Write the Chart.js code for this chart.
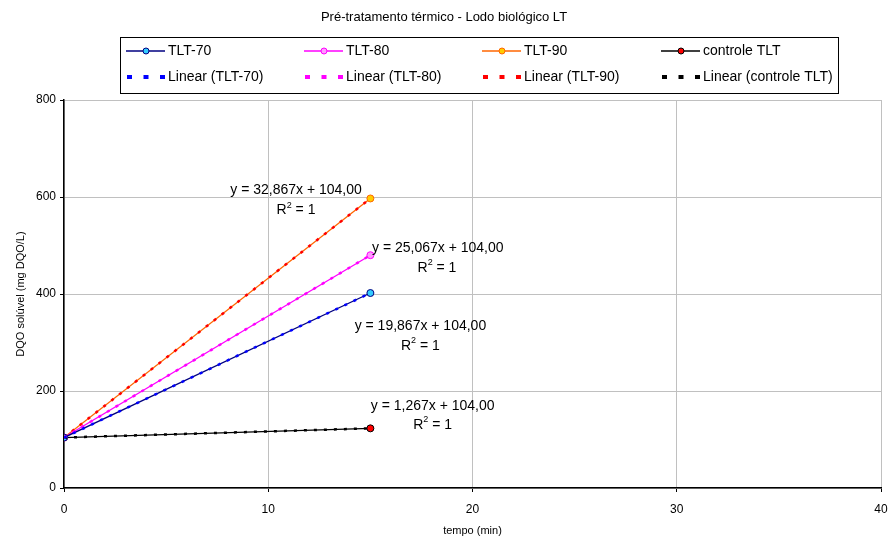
<!DOCTYPE html>
<html>
<head>
<meta charset="utf-8">
<script src="https://cdn.jsdelivr.net/npm/chart.js@4.4.0/dist/chart.umd.min.js"></script>
<style>
  html, body { margin: 0; padding: 0; background: #fff; }
  #wrap { width: 888px; height: 537px; }
</style>
</head>
<body>
<div id="wrap"><canvas id="chart" width="888" height="537"></canvas></div>
<script>
// data
const seriesNames = ["TLT-70", "TLT-80", "TLT-90", "controle TLT"];
const timeMin = [0, 15];
const dqoTLT70 = [104, 402];
const dqoTLT80 = [104, 480];
const dqoTLT90 = [104, 597];
const dqoControle = [104, 123];
const equations = ["y = 19,867x + 104,00", "y = 25,067x + 104,00", "y = 32,867x + 104,00", "y = 1,267x + 104,00"];
const xTicks = [0, 10, 20, 30, 40];
const yTicks = [0, 200, 400, 600, 800];

// label anchors (data coords): [eqX, eqY, r2X, r2Y]
const labelPos = [
  [17.45, 334, 17.45, 293],
  [18.3, 495, 18.26, 454],
  [11.36, 615, 11.36, 573],
  [18.05, 169, 18.05, 130]
];

const lineColors = ["#000080", "#ff00ff", "#ff6600", "#000000"];
const markerFill = ["#33ccff", "#ff99ff", "#ffcc00", "#ff0000"];
const trendColors = ["#0000ff", "#ff00ff", "#ff0000", "#000000"];

const FONT = "'Liberation Sans', Arial, sans-serif";
const allValues = [dqoTLT70, dqoTLT80, dqoTLT90, dqoControle];

const pts = vals => timeMin.map((t, i) => ({ x: t, y: vals[i] }));

const datasets = [];
seriesNames.forEach((name, i) => {
  datasets.push({
    label: name,
    data: pts(allValues[i]),
    borderColor: lineColors[i],
    backgroundColor: markerFill[i],
    pointBorderColor: lineColors[i],
    pointBackgroundColor: markerFill[i],
    borderWidth: 1.3,
    pointRadius: 3.5,
    pointBorderWidth: 1,
    showLine: true,
    order: 2,
    kind: "data"
  });
});
seriesNames.forEach((name, i) => {
  datasets.push({
    label: "Linear (" + name + ")",
    data: pts(allValues[i]),
    borderColor: trendColors[i],
    borderWidth: 2.5,
    borderDash: [3, 7],
    borderCapStyle: "butt",
    pointRadius: 0,
    showLine: true,
    order: 1,
    kind: "trend"
  });
});

const decorPlugin = {
  id: "decor",
  afterDraw(chart) {
    const ctx = chart.ctx;
    const xs = chart.scales.x, ys = chart.scales.y;
    ctx.save();
    // title
    ctx.fillStyle = "#000";
    ctx.font = "13px " + FONT;
    ctx.textAlign = "center";
    ctx.textBaseline = "middle";
    ctx.fillText("Pré-tratamento térmico - Lodo biológico LT", 444, 17);

    // legend box
    ctx.strokeStyle = "#000";
    ctx.lineWidth = 1;
    ctx.strokeRect(120.5, 37.5, 718, 56);
    const colX = [126, 304, 482, 661];
    const rowY = [51, 77];
    ctx.font = "14px " + FONT;
    ctx.textAlign = "left";
    chart.data.datasets.forEach((ds, k) => {
      const col = k % 4, row = Math.floor(k / 4);
      const x = colX[col], y = rowY[row];
      if (ds.kind === "data") {
        ctx.strokeStyle = ds.borderColor;
        ctx.lineWidth = 1.3;
        ctx.setLineDash([]);
        ctx.beginPath(); ctx.moveTo(x, y); ctx.lineTo(x + 39, y); ctx.stroke();
        ctx.beginPath(); ctx.arc(x + 20, y, 3, 0, Math.PI * 2);
        ctx.fillStyle = ds.pointBackgroundColor; ctx.fill();
        ctx.strokeStyle = ds.pointBorderColor; ctx.lineWidth = 1; ctx.stroke();
      } else {
        ctx.fillStyle = ds.borderColor;
        for (let d = 0; d < 3; d++) ctx.fillRect(x + 1 + d * 16.5, y - 2, 5, 4);
      }
      ctx.fillStyle = "#000";
      ctx.fillText(ds.label, x + 42, y);
    });

    // trendline equations
    ctx.textAlign = "left";
    labelPos.forEach((p, i) => {
      ctx.font = "14px " + FONT;
      const ex = xs.getPixelForValue(p[0]), ey = ys.getPixelForValue(p[1]);
      const ew = ctx.measureText(equations[i]).width;
      ctx.fillText(equations[i], ex - ew / 2, ey);
      const rx = xs.getPixelForValue(p[2]), ry = ys.getPixelForValue(p[3]);
      const wR = ctx.measureText("R").width;
      const wRest = ctx.measureText(" = 1").width;
      ctx.font = "9px " + FONT;
      const w2 = ctx.measureText("2").width;
      const total = wR + w2 + wRest;
      const sx = rx - total / 2;
      ctx.font = "14px " + FONT;
      ctx.fillText("R", sx, ry);
      ctx.fillText(" = 1", sx + wR + w2, ry);
      ctx.font = "9px " + FONT;
      ctx.fillText("2", sx + wR, ry - 5);
    });
    ctx.restore();
  }
};

new Chart(document.getElementById("chart"), {
  type: "scatter",
  data: { datasets },
  options: {
    responsive: false,
    animation: false,
    devicePixelRatio: 1,
    layout: { padding: { top: 100, left: 10, right: 7, bottom: 0 } },
    plugins: { legend: { display: false }, tooltip: { enabled: false }, title: { display: false } },
    scales: {
      x: {
        type: "linear",
        min: 0, max: 40,
        afterBuildTicks: s => { s.ticks = xTicks.map(v => ({ value: v })); },
        afterFit: s => { s.height = 49; s.paddingRight = 0; s.paddingLeft = 0; },
        grid: { color: "#c0c0c0", tickColor: "#000", tickLength: 4, drawTicks: true },
        border: { color: "#000", width: 1.5 },
        ticks: { color: "#000", font: { family: FONT, size: 12 }, padding: 10 },
        title: { display: true, text: "tempo (min)", color: "#000", font: { family: FONT, size: 11 }, padding: { top: 4, bottom: -1 } }
      },
      y: {
        type: "linear",
        min: 0, max: 800,
        afterBuildTicks: s => { s.ticks = yTicks.map(v => ({ value: v })); },
        afterFit: s => { s.width = 54; s.paddingTop = 0; s.paddingBottom = 0; },
        grid: { color: "#c0c0c0", tickColor: "#000", tickLength: 4 },
        border: { color: "#000", width: 1.5 },
        ticks: { color: "#000", font: { family: FONT, size: 12 }, padding: 4 },
        title: { display: true, text: "DQO solúvel (mg DQO/L)", color: "#000", font: { family: FONT, size: 11 }, padding: { bottom: 4 } }
      }
    }
  },
  plugins: [decorPlugin]
});
</script>
</body>
</html>
